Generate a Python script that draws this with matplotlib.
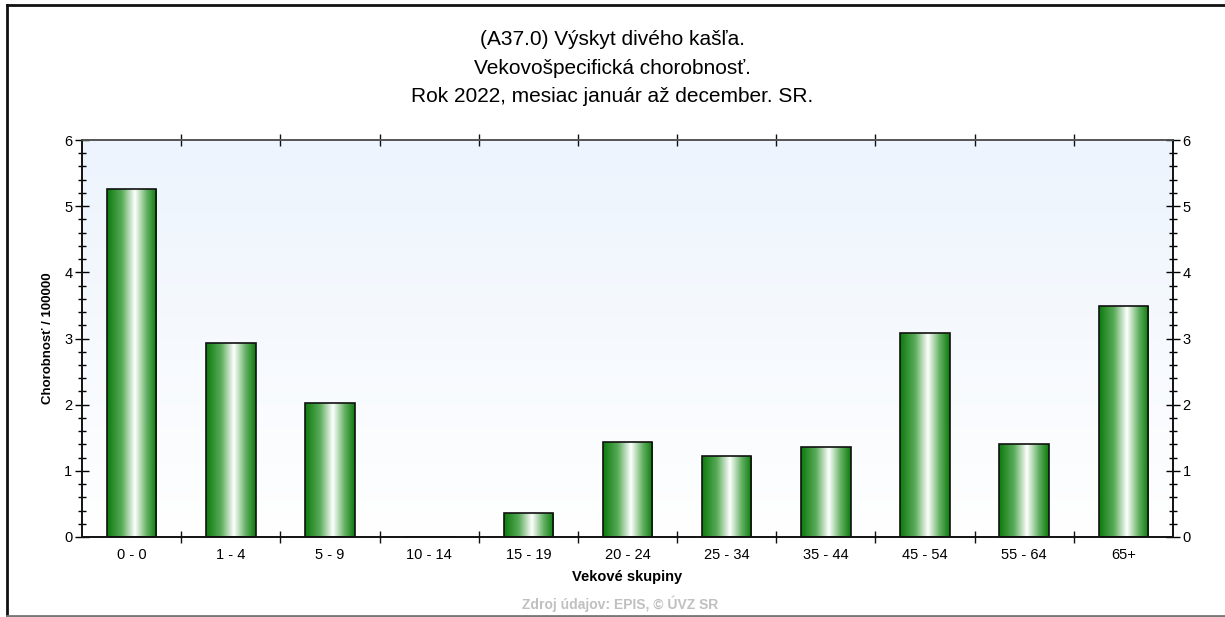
import numpy as np
import matplotlib
matplotlib.use("Agg")
import matplotlib.pyplot as plt
from matplotlib.colors import LinearSegmentedColormap
from matplotlib.lines import Line2D
from matplotlib.ticker import MultipleLocator

plt.rcParams['font.family'] = ['Liberation Sans', 'DejaVu Sans']

categories = ["0 - 0", "1 - 4", "5 - 9", "10 - 14", "15 - 19", "20 - 24",
              "25 - 34", "35 - 44", "45 - 54", "55 - 64", "65+"]
values = [5.26, 2.93, 2.03, 0.0, 0.36, 1.43, 1.22, 1.36, 3.08, 1.41, 3.49]

title = ("(A37.0) Výskyt divého kašľa.\n"
         "Vekovošpecifická chorobnosť.\n"
         "Rok 2022, mesiac január až december. SR.")

fig = plt.figure(figsize=(12.25, 6.17), dpi=100)
W, H = 1225, 617
ax = fig.add_axes([82 / W, 1 - 537 / H, (1173 - 82) / W, (537 - 140) / H])

x = np.arange(len(categories))
ax.set_xlim(-0.5, len(categories) - 0.5)
ax.set_ylim(0, 6)

# background gradient: pale blue at top to white at bottom
bg = LinearSegmentedColormap.from_list("bg", ["#ffffff", "#edf4fd"])
ax.imshow(np.linspace(0, 1, 256).reshape(-1, 1), cmap=bg, aspect="auto",
          extent=(-0.5, len(categories) - 0.5, 0, 6), origin="lower", zorder=0)

# bars with horizontal green-white-green shading
bar_cmap = LinearSegmentedColormap.from_list(
    "bar", [(0.0, "#0c7a0c"), (0.3, "#5aab5a"), (0.56, "#ffffff"),
            (0.8, "#62b062"), (1.0, "#0c7a0c")])
grad = np.linspace(0, 1, 256).reshape(1, -1)
bars = ax.bar(x, values, width=0.5, facecolor="none", edgecolor="#111111",
              linewidth=1.2, zorder=3)
for b in bars:
    if b.get_height() <= 0:
        continue
    im = ax.imshow(grad, cmap=bar_cmap, aspect="auto",
                   extent=(b.get_x(), b.get_x() + b.get_width(), 0, b.get_height()),
                   zorder=2)
    im.set_clip_path(b)

ax.set_xlim(-0.5, len(categories) - 0.5)
ax.set_ylim(0, 6)

# x axis: labels at centres, ticks at group boundaries
ax.set_xticks(x)
ax.set_xticklabels(categories, fontsize=10.5)
ax.set_xticks(np.arange(0.5, len(categories) - 1, 1.0), minor=True)
ax.tick_params(axis="x", which="major", length=0, pad=8)
ax.tick_params(axis="x", which="minor", direction="inout", length=9,
               width=1, color="#111111", top=True)

# y axis
ax.yaxis.set_major_locator(MultipleLocator(1))
ax.yaxis.set_minor_locator(MultipleLocator(0.2))
ax.tick_params(axis="y", which="major", direction="inout", length=10,
               width=1, labelsize=10.5, pad=2)
ax.tick_params(axis="y", which="minor", direction="inout", length=6, width=1)

ax2 = ax.twinx()
ax2.set_ylim(0, 6)
ax2.yaxis.set_major_locator(MultipleLocator(1))
ax2.yaxis.set_minor_locator(MultipleLocator(0.2))
ax2.tick_params(axis="y", which="major", direction="inout", length=10,
                width=1, labelsize=10.5, pad=2)
ax2.tick_params(axis="y", which="minor", direction="inout", length=6, width=1)

for a in (ax, ax2):
    for s in a.spines.values():
        s.set_color("#111111")
        s.set_linewidth(1.2)
    a.spines["top"].set_color("#555555")

ax.set_ylabel("Chorobnosť / 100000", fontsize=9.5, fontweight="bold", labelpad=7)
ax.set_xlabel("Vekové skupiny", fontsize=10.5, fontweight="bold", labelpad=6)

fig.text(0.5, 1 - 68 / H, title, ha="center", va="center", fontsize=15,
         linespacing=1.62)
fig.text(620 / W, 1 - 604 / H, "Zdroj údajov: EPIS, © ÚVZ SR", ha="center",
         va="center", fontsize=10, fontweight="bold", color="#c0c0c0")

# outer frame
fig.add_artist(Line2D([7 / W, 1], [1 - 5 / H, 1 - 5 / H], transform=fig.transFigure,
                      color="#111111", linewidth=2))
fig.add_artist(Line2D([7 / W, 7 / W], [1 - 5 / H, 1 - 616 / H], transform=fig.transFigure,
                      color="#111111", linewidth=2))
fig.add_artist(Line2D([7 / W, 1], [1 - 616 / H, 1 - 616 / H], transform=fig.transFigure,
                      color="#777777", linewidth=2))

fig.savefig("out.png", dpi=100)
